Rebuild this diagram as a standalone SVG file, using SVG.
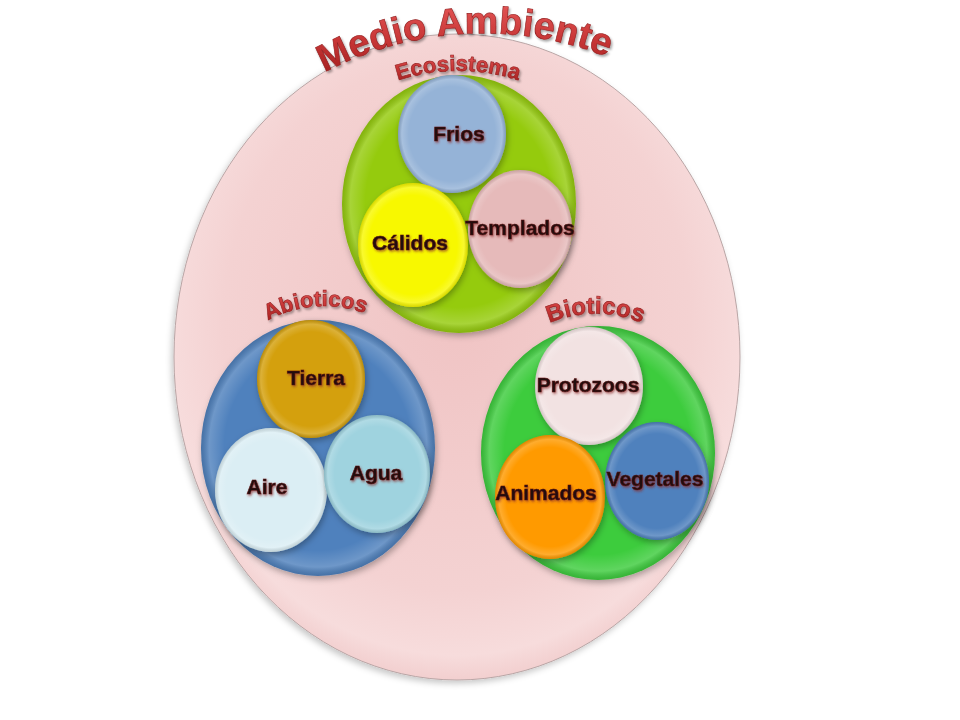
<svg xmlns="http://www.w3.org/2000/svg" xmlns:xlink="http://www.w3.org/1999/xlink" width="960" height="720" viewBox="0 0 960 720">
<style>
  .lbl { font-family: "Liberation Sans", Arial, sans-serif; font-weight: bold; font-size: 21px; fill: #230c0c; stroke: #5a1414; stroke-width: 0.6px; text-anchor: middle; filter: url(#txtShadow); }
  .arc { font-family: "Liberation Sans", Arial, sans-serif; font-weight: bold; fill: url(#redText); stroke: #8e1c1c; stroke-width: 0.6px; filter: url(#arcShadow); }
  .bevel { fill: url(#bevel); }
  .sub { filter: url(#shadow); }
</style>
<defs>
  <radialGradient id="bigFill" cx="0.5" cy="0.45" r="0.55">
    <stop offset="0" stop-color="#f0c4c4"/>
    <stop offset="0.75" stop-color="#f4d2d2"/>
    <stop offset="0.93" stop-color="#f7dcdc"/>
    <stop offset="1" stop-color="#f2cfcf"/>
  </radialGradient>
  <radialGradient id="bevel" cx="0.5" cy="0.5" r="0.5">
    <stop offset="0" stop-color="#ffffff" stop-opacity="0"/>
    <stop offset="0.8" stop-color="#ffffff" stop-opacity="0"/>
    <stop offset="0.93" stop-color="#ffffff" stop-opacity="0.18"/>
    <stop offset="1" stop-color="#000000" stop-opacity="0.12"/>
  </radialGradient>
  <linearGradient id="redText" x1="0" y1="0" x2="0" y2="1">
    <stop offset="0" stop-color="#e65a5a"/>
    <stop offset="0.5" stop-color="#c83636"/>
    <stop offset="1" stop-color="#9e1c1c"/>
  </linearGradient>
  <filter id="shadow" x="-20%" y="-20%" width="140%" height="140%">
    <feDropShadow dx="1.5" dy="3" stdDeviation="3" flood-color="#000" flood-opacity="0.3"/>
  </filter>
  <filter id="bigShadow" x="-10%" y="-10%" width="120%" height="120%">
    <feDropShadow dx="-2" dy="3" stdDeviation="3" flood-color="#000" flood-opacity="0.22"/>
  </filter>
  <filter id="txtShadow" x="-20%" y="-40%" width="140%" height="180%">
    <feDropShadow dx="1" dy="1.5" stdDeviation="1" flood-color="#8a2a2a" flood-opacity="0.7"/>
  </filter>
  <filter id="arcShadow" x="-20%" y="-40%" width="140%" height="180%">
    <feDropShadow dx="1.5" dy="2" stdDeviation="1.2" flood-color="#000" flood-opacity="0.35"/>
  </filter>
  <path id="pTitle" d="M 322 74 A 339 339 0 0 1 610 58"/>
  <path id="pEco" d="M 390 83 A 197 197 0 0 1 526 83"/>
  <path id="pAbio" d="M 262 324 A 116 116 0 0 1 371 316"/>
  <path id="pBio" d="M 545 325 A 118 118 0 0 1 646 325"/>
</defs>
<rect width="960" height="720" fill="#ffffff"/>

<g id="medio-ambiente">
  <ellipse cx="457" cy="357" rx="283" ry="323" fill="url(#bigFill)" stroke="#b9a5a5" stroke-width="1" filter="url(#bigShadow)"/>
  <text class="arc" font-size="38"><textPath href="#pTitle" startOffset="50%" text-anchor="middle">Medio Ambiente</textPath></text>
</g>

<g id="ecosistema">
  <ellipse class="sub" cx="459" cy="204" rx="117" ry="129" fill="#95cb10"/>
  <ellipse class="bevel" cx="459" cy="204" rx="117" ry="129"/>
  <text class="arc" font-size="22"><textPath href="#pEco" startOffset="50%" text-anchor="middle">Ecosistema</textPath></text>
</g>
<g id="frios">
  <ellipse class="sub" cx="452" cy="134" rx="54" ry="59" fill="#95b3d7"/>
  <ellipse class="bevel" cx="452" cy="134" rx="54" ry="59"/>
  <text class="lbl" x="459" y="141">Frios</text>
</g>
<g id="calidos">
  <ellipse class="sub" cx="413" cy="245" rx="55" ry="62" fill="#f8f800"/>
  <ellipse class="bevel" cx="413" cy="245" rx="55" ry="62"/>
  <text class="lbl" x="410" y="250">Cálidos</text>
</g>
<g id="templados">
  <ellipse class="sub" cx="520" cy="229" rx="52" ry="59" fill="#e6baba"/>
  <ellipse class="bevel" cx="520" cy="229" rx="52" ry="59"/>
  <text class="lbl" x="520" y="235">Templados</text>
</g>

<g id="abioticos">
  <ellipse class="sub" cx="318" cy="448" rx="117" ry="128" fill="#4f81bd"/>
  <ellipse class="bevel" cx="318" cy="448" rx="117" ry="128"/>
  <text class="arc" font-size="22"><textPath href="#pAbio" startOffset="50%" text-anchor="middle">Abioticos</textPath></text>
</g>
<g id="tierra">
  <ellipse class="sub" cx="311" cy="379" rx="54" ry="59" fill="#d4a00a"/>
  <ellipse class="bevel" cx="311" cy="379" rx="54" ry="59"/>
  <text class="lbl" x="316" y="385">Tierra</text>
</g>
<g id="aire">
  <ellipse class="sub" cx="271" cy="490" rx="56" ry="62" fill="#dbeef4"/>
  <ellipse class="bevel" cx="271" cy="490" rx="56" ry="62"/>
  <text class="lbl" x="267" y="494">Aire</text>
</g>
<g id="agua">
  <ellipse class="sub" cx="377" cy="474" rx="53" ry="59" fill="#9fd3df"/>
  <ellipse class="bevel" cx="377" cy="474" rx="53" ry="59"/>
  <text class="lbl" x="376" y="480">Agua</text>
</g>

<g id="bioticos">
  <ellipse class="sub" cx="598" cy="453" rx="117" ry="127" fill="#3ccc3c"/>
  <ellipse class="bevel" cx="598" cy="453" rx="117" ry="127"/>
  <text class="arc" font-size="24"><textPath href="#pBio" startOffset="50%" text-anchor="middle">Bioticos</textPath></text>
</g>
<g id="protozoos">
  <ellipse class="sub" cx="589" cy="386" rx="54" ry="59" fill="#f2e2e2"/>
  <ellipse class="bevel" cx="589" cy="386" rx="54" ry="59"/>
  <text class="lbl" x="588" y="392">Protozoos</text>
</g>
<g id="animados">
  <ellipse class="sub" cx="550" cy="497" rx="55" ry="62" fill="#ff9a00"/>
  <ellipse class="bevel" cx="550" cy="497" rx="55" ry="62"/>
  <text class="lbl" x="546" y="500">Animados</text>
</g>
<g id="vegetales">
  <ellipse class="sub" cx="657" cy="481" rx="52" ry="59" fill="#4f81bd"/>
  <ellipse class="bevel" cx="657" cy="481" rx="52" ry="59"/>
  <text class="lbl" x="655" y="486">Vegetales</text>
</g>

<g id="connectors"/>
</svg>
